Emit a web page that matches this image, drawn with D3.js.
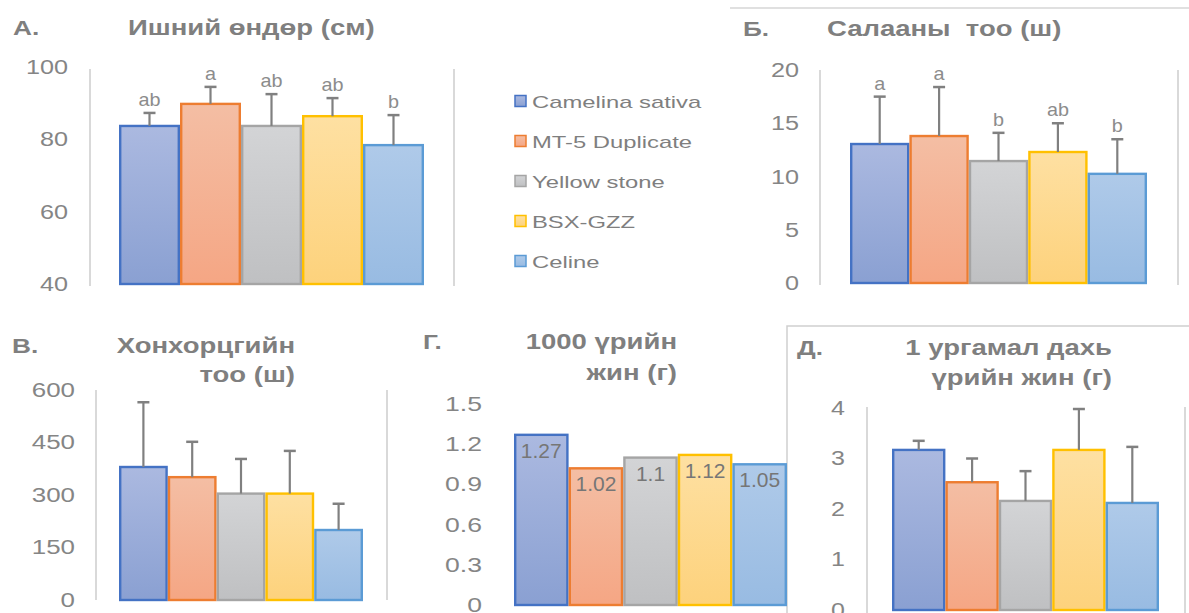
<!DOCTYPE html>
<html>
<head>
<meta charset="utf-8">
<script src="https://cdn.jsdelivr.net/npm/d3@7"></script>
<style>
	body { margin: 0; background: #fff; }
	svg { display: block; font-family: 'Liberation Sans', Arial, sans-serif; }
	text { white-space: pre; }
</style>
</head>
<body>
<svg id="chart"></svg>
<script>
// Varieties (legend order)
const varieties = ['Camelina sativa', 'MT-5 Duplicate', 'Yellow stone', 'BSX-GZZ', 'Celine'];

// А. plant height (cm)
const heightMean = [83.7, 89.8, 83.7, 86.4, 78.4];
const heightErr = [3.6, 4.7, 8.8, 5.0, 8.3];
const heightLetters = ['ab', 'a', 'ab', 'ab', 'b'];
const heightTicks = [40, 60, 80, 100];

// Б. number of branches
const branchMean = [13.05, 13.8, 11.45, 12.3, 10.25];
const branchErr = [4.45, 4.6, 2.65, 2.7, 3.25];
const branchLetters = ['a', 'a', 'b', 'ab', 'b'];
const branchTicks = [0, 5, 10, 15, 20];

// В. number of pods
const podMean = [380, 351, 304, 304, 200];
const podErr = [185, 101, 99, 122, 75];
const podTicks = [0, 150, 300, 450, 600];

// Г. 1000 seed weight (g)
const tswMean = [1.27, 1.02, 1.1, 1.12, 1.05];
const tswTicks = [0, 0.3, 0.6, 0.9, 1.2, 1.5];

// Д. seed weight per plant (g)
const seedMean = [3.17, 2.53, 2.16, 3.17, 2.12];
const seedErr = [0.18, 0.47, 0.59, 0.81, 1.11];
const seedTicks = [0, 1, 2, 3, 4];

// styles
const strokeColors = ['#4472c4', '#ed7d31', '#a5a5a5', '#ffc000', '#5b9bd5'];
const fillTop = ['#abb9e0', '#f4bea4', '#d3d4d6', '#fee0a2', '#afcae9'];
const fillBottom = ['#8aa0d2', '#f5a684', '#bfc0c2', '#fdd27c', '#98bbe2'];
const textGray = '#7f7f7f';
const gridGray = '#d9d9d9';

const width = 1189;
const height = 613;

const svg = d3.select('#chart').attr('width', width).attr('height', height);

const defs = svg.append('defs');
varieties.forEach((v, i) => {
	const g = defs.append('linearGradient')
		.attr('id', 'grad' + i)
		.attr('x1', 0).attr('y1', 0).attr('x2', 0).attr('y2', 1);
	g.append('stop').attr('offset', '0%').attr('stop-color', fillTop[i]);
	g.append('stop').attr('offset', '100%').attr('stop-color', fillBottom[i]);
});

// text that is stretched horizontally like in the source picture
function stretchText(g, x, y, str, sx, opts) {
	return g.append('text')
		.attr('transform', `translate(${x},${y}) scale(${sx},1)`)
		.attr('text-anchor', opts.anchor || 'start')
		.attr('font-size', opts.size)
		.attr('font-weight', opts.weight || 'normal')
		.attr('fill', opts.fill || textGray)
		.text(str);
}

// frame lines of the chart boxes
svg.append('line').attr('x1', 730).attr('x2', width).attr('y1', 8).attr('y2', 8)
	.attr('stroke', '#d6d6d6').attr('stroke-width', 1.5);
svg.append('path').attr('d', `M787,${height}V326H${width}`)
	.attr('fill', 'none').attr('stroke', '#d0d0d0').attr('stroke-width', 1.5);

const panels = [
	{
		letter: 'А.', title: ['Ишний өндөр (см)'], mean: heightMean, err: heightErr, marks: heightLetters,
		ticks: heightTicks, domain: [40, 100], yRange: [284, 67], xRange: [119, 424], grid: [90, 454], gridY: [69, 286],
		tickX: 68, tickSize: 20.5, tickScale: 1.23, letterX: 13, titleX: 128, titleY: [35], titleAnchor: 'start'
	},
	{
		letter: 'Б.', title: ['Салааны  тоо (ш)'], mean: branchMean, err: branchErr, marks: branchLetters,
		ticks: branchTicks, domain: [0, 20], yRange: [283, 70], xRange: [850, 1147], grid: [820, 1178], gridY: [70, 285],
		tickX: 799, tickSize: 20.5, tickScale: 1.23, letterX: 743, titleX: 827, titleY: [36], titleAnchor: 'start'
	},
	{
		letter: 'В.', title: ['Хонхорцгийн', 'тоо (ш)'], mean: podMean, err: podErr,
		ticks: podTicks, domain: [0, 600], yRange: [600, 390], xRange: [119, 363], grid: [96, 387], gridY: [390, 600],
		tickX: 75, tickSize: 19.5, tickScale: 1.33, letterX: 12, titleX: 295, titleY: [353, 382], titleAnchor: 'end'
	},
	{
		letter: 'Г.', title: ['1000 үрийн', 'жин (г)'], mean: tswMean, labels: true,
		ticks: tswTicks, domain: [0, 1.5], yRange: [605, 404], xRange: [514, 787],
		tickX: 482, tickSize: 20, tickScale: 1.33, letterX: 423, titleX: 677, titleY: [349, 380], titleAnchor: 'end'
	},
	{
		letter: 'Д.', title: ['1 ургамал дахь', 'үрийн жин (г)'], mean: seedMean, err: seedErr,
		ticks: seedTicks, domain: [0, 4], yRange: [610, 408], xRange: [892, 1159], grid: [867, 1185], gridY: [407, 613],
		tickX: 845, tickSize: 20, tickScale: 1.25, letterX: 797, titleX: 1112, titleY: [355, 385], titleAnchor: 'end'
	}
];

panels.forEach((p) => {
	const g = svg.append('g');

	const y = d3.scaleLinear().domain(p.domain).range(p.yRange);
	const x = d3.scaleBand().domain(varieties).range(p.xRange).padding(0);

	// vertical grid lines at the plot edges
	if (p.grid) {
		g.selectAll('.grid')
			.data(p.grid)
			.join('line')
			.attr('x1', (d) => d).attr('x2', (d) => d)
			.attr('y1', p.gridY[0]).attr('y2', p.gridY[1])
			.attr('stroke', gridGray).attr('stroke-width', 2);
	}

	// y axis labels
	const axis = g.append('g')
		.attr('transform', `translate(${p.tickX},0)`)
		.call(d3.axisLeft(y).tickValues(p.ticks).tickSize(0).tickPadding(0).tickFormat(d3.format('')));
	axis.select('.domain').remove();
	axis.selectAll('text')
		.attr('x', 0)
		.attr('transform', `scale(${p.tickScale},1)`)
		.attr('font-size', p.tickSize)
		.attr('font-family', 'Liberation Sans, Arial, sans-serif')
		.attr('fill', '#858585');

	// bars
	const base = y(p.domain[0]);
	g.selectAll('.bar')
		.data(p.mean)
		.join('rect')
		.attr('x', (d, i) => x(varieties[i]) + 1.2)
		.attr('y', (d) => y(d))
		.attr('width', x.bandwidth() - 2.4)
		.attr('height', (d) => base - y(d))
		.attr('fill', (d, i) => `url(#grad${i})`)
		.attr('stroke', (d, i) => strokeColors[i])
		.attr('stroke-width', 2.4);

	// error bars
	if (p.err) {
		const eb = g.selectAll('.err')
			.data(p.mean.map((m, i) => ({ m, e: p.err[i], v: varieties[i] })))
			.join('g')
			.attr('transform', (d) => `translate(${x(d.v) + x.bandwidth() / 2},0)`);
		eb.append('line')
			.attr('y1', (d) => y(d.m)).attr('y2', (d) => y(d.m + d.e))
			.attr('stroke', '#808080').attr('stroke-width', 2.2);
		eb.append('line')
			.attr('x1', -6).attr('x2', 6)
			.attr('y1', (d) => y(d.m + d.e)).attr('y2', (d) => y(d.m + d.e))
			.attr('stroke', '#808080').attr('stroke-width', 2.5);

		// significance letters
		if (p.marks) {
			eb.each(function (d, i) {
				stretchText(d3.select(this), 0, y(d.m + d.e) - 7, p.marks[i], 1.1,
					{ anchor: 'middle', size: 18, fill: '#8c8c8c' });
			});
		}
	}

	// data labels inside the bars
	if (p.labels) {
		p.mean.forEach((d, i) => {
			stretchText(g, x(varieties[i]) + x.bandwidth() / 2, y(d) + 23, d3.format('')(d), 1.05,
				{ anchor: 'middle', size: 20, fill: '#767676' });
		});
	}

	// panel letter and title
	stretchText(g, p.letterX, p.titleY[0], p.letter, 1.25, { size: 21, weight: 'bold' });
	p.title.forEach((t, k) => {
		stretchText(g, p.titleX, p.titleY[k], t, 1.25, { anchor: p.titleAnchor, size: 22, weight: 'bold' });
	});
});

// legend
const legend = svg.append('g')
	.selectAll('g')
	.data(varieties)
	.join('g')
	.attr('transform', (d, i) => `translate(515,${101 + i * 40})`);

legend.append('rect')
	.attr('x', 0).attr('y', -5.5)
	.attr('width', 11).attr('height', 11)
	.attr('fill', (d, i) => `url(#grad${i})`)
	.attr('stroke', (d, i) => strokeColors[i])
	.attr('stroke-width', 1.5);

legend.each(function (d) {
	stretchText(d3.select(this), 17, 6.5, d, 1.4, { size: 17 });
});
</script>
</body>
</html>
